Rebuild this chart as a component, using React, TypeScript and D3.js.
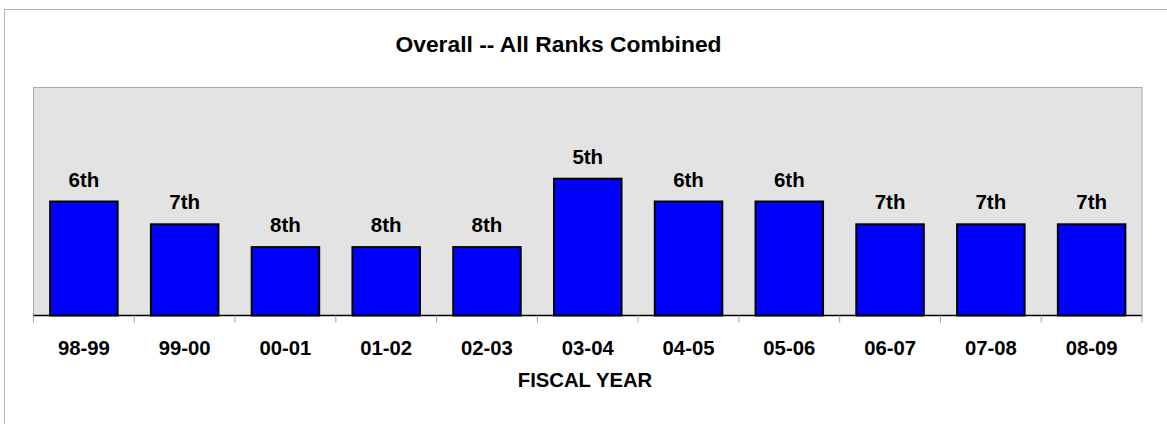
import * as d3 from 'd3'

const years = ['98-99', '99-00', '00-01', '01-02', '02-03', '03-04', '04-05', '05-06', '06-07', '07-08', '08-09']
const rankLabels = ['6th', '7th', '8th', '8th', '8th', '5th', '6th', '6th', '7th', '7th', '7th']
// bar height in "rank points" (11 - rank)
const rankValues = [5, 4, 3, 3, 3, 6, 5, 5, 4, 4, 4]

const W = 1167
const H = 424
const plot = { left: 33.5, right: 1142, top: 87.5, bottom: 315.5 }
const font = 'Arial, "Liberation Sans", Helvetica, sans-serif'

export default function App() {
  const x = d3.scaleBand<string>()
    .domain(years)
    .range([plot.left, plot.right])
    .paddingInner(0.33)
    .paddingOuter(0.165)

  const y = d3.scaleLinear().domain([0, 10]).range([plot.bottom, plot.top])

  const step = x.step()
  const edges = d3.range(years.length + 1).map(i => plot.left + i * step)

  return (
    <svg width={W} height={H} style={{ position: 'absolute', left: 0, top: 0 }} fontFamily={font}>
      <rect x={0} y={0} width={W} height={H} fill="#fff" />
      <rect x={4.5} y={9.5} width={W + 10} height={H + 10} fill="none" stroke="#b4b4b4" strokeWidth={1} />

      <text x={558.5} y={52} textAnchor="middle" fontSize={22.8} fontWeight="bold" fill="#000">
        Overall -- All Ranks Combined
      </text>

      <rect x={plot.left} y={plot.top} width={plot.right - plot.left} height={plot.bottom - plot.top}
        fill="#e3e3e3" stroke="#a8a8a8" strokeWidth={1} />

      {years.map((yr, i) => (
        <rect key={yr} x={x(yr)!} y={y(rankValues[i])} width={x.bandwidth()}
          height={y(0) - y(rankValues[i])} fill="#0000ff" stroke="#000" strokeWidth={2} />
      ))}

      {years.map((yr, i) => (
        <text key={'l' + yr} x={x(yr)! + x.bandwidth() / 2} y={y(rankValues[i]) - 15}
          textAnchor="middle" fontSize={20.5} fontWeight="bold" fill="#000">
          {rankLabels[i]}
        </text>
      ))}

      <line x1={plot.left} x2={plot.right} y1={plot.bottom} y2={plot.bottom} stroke="#000" strokeWidth={1.5} />
      {edges.map((e, i) => (
        <line key={'t' + i} x1={e} x2={e} y1={plot.bottom} y2={plot.bottom + 7} stroke="#a0a0a0" strokeWidth={1} />
      ))}

      {years.map(yr => (
        <text key={'x' + yr} x={x(yr)! + x.bandwidth() / 2} y={355} textAnchor="middle"
          fontSize={20.3} fontWeight="bold" fill="#000">
          {yr}
        </text>
      ))}

      <text x={585} y={387} textAnchor="middle" fontSize={20.3} fontWeight="bold" fill="#000">
        FISCAL YEAR
      </text>
    </svg>
  )
}
